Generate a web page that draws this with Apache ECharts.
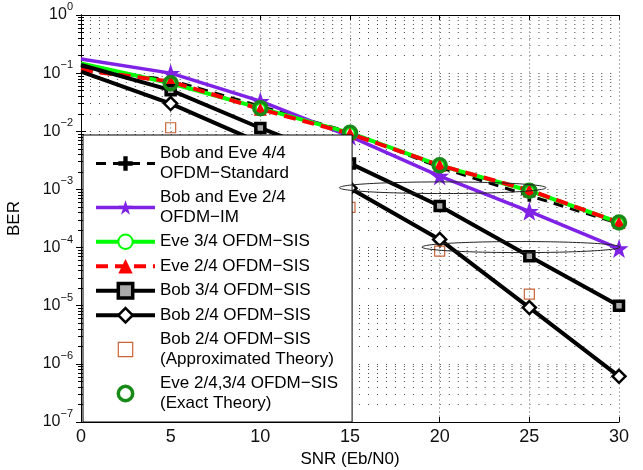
<!DOCTYPE html>
<html lang="en">
<head>
<meta charset="UTF-8">
<title>BER vs SNR</title>
<script src="https://cdn.jsdelivr.net/npm/echarts@6/dist/echarts.min.js"></script>
<style>html,body{margin:0;padding:0;background:#fff;}</style>
</head>
<body>
<div id="main" style="width:643px;height:470px"></div>
<script>
// SNR points (dB)
var snr = [0, 5, 10, 15, 20, 25, 30];
// BER
var berStandard = [0.12, 0.076, 0.027, 0.0096, 0.0024, 0.00078, 0.00026];
var berIM = [0.175, 0.1, 0.033, 0.0082, 0.0017, 0.00042, 0.000096];
var berEve34 = [0.147, 0.067, 0.025, 0.0094, 0.0026, 0.00095, 0.00027];
var berEve24 = [0.113, 0.072, 0.024, 0.0091, 0.0026, 0.00097, 0.00027];
var berBob34 = [0.138, 0.051, 0.0114, 0.0028, 0.00052, 0.000071, 0.00001];
var berBob24 = [0.106, 0.03, 0.0063, 0.00105, 0.000138, 0.0000093, 0.00000061];
var berBob24Approx = [null, 0.0115, 0.0025, 0.00049, 0.000087, 0.0000158, null];
var berEveExact = [null, 0.067, 0.025, 0.0094, 0.0026, 0.00095, 0.00027];

var names = [
    'Bob and Eve 4/4\nOFDM\u2212Standard',
    'Bob and Eve 2/4\nOFDM\u2212IM',
    'Eve 3/4 OFDM\u2212SIS',
    'Eve 2/4 OFDM\u2212SIS',
    'Bob 3/4 OFDM\u2212SIS',
    'Bob 2/4 OFDM\u2212SIS',
    'Bob 2/4 OFDM\u2212SIS\n(Approximated Theory)',
    'Eve 2/4,3/4 OFDM\u2212SIS\n(Exact Theory)'
];

// annotation ellipses: centre snr, centre BER, half width (dB), half height (decades)
var ellipseX = [20.17, 24.54];
var ellipseBer = [0.00107, 0.000102];
var ellipseRx = [5.76, 5.52];
var ellipseRy = [0.1, 0.095];

var FONT = '"Liberation Sans", Arial, Helvetica, sans-serif';
var PLUS = 'path://M3.5,0H6.5V3.5H10V6.5H6.5V10H3.5V6.5H0V3.5H3.5Z';
var STAR = 'path://M12,0.5L15.1,9.3L24.4,9.3L16.8,14.8L19.7,23.6L12,18.2L4.3,23.6L7.2,14.8L-0.4,9.3L8.9,9.3Z';

// first point at snr 0 has no marker
function curve(ys) {
    var out = [];
    for (var i = 0; i < snr.length; i++) {
        if (ys[i] == null) continue;
        if (i === 0) out.push({value: [snr[i], ys[i]], symbol: 'none'});
        else out.push([snr[i], ys[i]]);
    }
    return out;
}

var ellipses = [];
for (var k = 0; k < ellipseX.length; k++) {
    ellipses.push([ellipseX[k], ellipseBer[k], ellipseRx[k], ellipseRy[k]]);
}

function supLabel(v) {
    var e = Math.round(Math.log10(v));
    var s = e < 0 ? '\u2212' + (-e) : '' + e;
    return '{b|10}{s|' + s + '}';
}

var dotLine = {color: '#444', width: 1, type: [1, 7.97]};

var myChart = echarts.init(document.getElementById('main'));
var option = {
    animation: false,
    backgroundColor: '#fff',
    textStyle: {fontFamily: FONT},
    grid: {left: 81, right: 24, top: 15, bottom: 48, outerBoundsMode: 'none'},
    legend: {
        orient: 'vertical',
        left: 83,
        top: 135,
        backgroundColor: '#fff',
        borderColor: '#000',
        borderWidth: 1,
        borderRadius: 0,
        padding: [9, 14, 9, 11],
        itemGap: 5,
        itemWidth: 59,
        itemHeight: 18,
        textStyle: {fontSize: 17, lineHeight: 19.5, color: '#000', fontFamily: FONT},
        lineStyle: {width: 'inherit'},
        itemStyle: {borderWidth: 'inherit'},
        selectedMode: false,
        data: names
    },
    xAxis: [{
        type: 'value', min: 0, max: 30, interval: 5,
        name: 'SNR (Eb/N0)', nameLocation: 'middle', nameGap: 21,
        nameTextStyle: {fontSize: 17, color: '#000', fontFamily: FONT},
        axisLine: {lineStyle: {color: '#000', width: 1}},
        axisTick: {inside: true, length: 5, lineStyle: {color: '#000'}},
        axisLabel: {fontSize: 18, color: '#111', margin: 6, fontFamily: FONT},
        splitLine: {show: true, lineStyle: {color: '#b0b0b0', width: 1, type: [2, 2]}}
    }, {
        type: 'value', min: 0, max: 30, interval: 5, position: 'top',
        axisLine: {lineStyle: {color: '#000', width: 1}},
        axisTick: {inside: true, length: 5, lineStyle: {color: '#000'}},
        axisLabel: {show: false},
        splitLine: {show: false}
    }],
    yAxis: [{
        type: 'log', logBase: 10, min: 1e-7, max: 1,
        name: 'BER', nameLocation: 'middle', nameGap: 58,
        nameTextStyle: {fontSize: 17, color: '#000', fontFamily: FONT},
        axisLine: {show: true, lineStyle: {color: '#000', width: 1}},
        axisTick: {inside: true, length: 5, lineStyle: {color: '#000'}},
        minorTick: {show: true, splitNumber: 9, length: 3, lineStyle: {color: '#000'}},
        axisLabel: {
            margin: 8, color: '#111', formatter: supLabel,
            rich: {
                b: {fontSize: 16, lineHeight: 16, fontFamily: FONT, color: '#111'},
                s: {fontSize: 11, lineHeight: 11, padding: [0, 0, 16, 0], fontFamily: FONT, color: '#111'}
            }
        },
        splitLine: {show: true, lineStyle: dotLine},
        minorSplitLine: {show: true, lineStyle: dotLine}
    }, {
        type: 'log', logBase: 10, min: 1e-7, max: 1, position: 'right',
        axisLine: {show: true, lineStyle: {color: '#000', width: 1}},
        axisTick: {inside: true, length: 5, lineStyle: {color: '#000'}},
        minorTick: {show: true, splitNumber: 9, length: 3, lineStyle: {color: '#000'}},
        axisLabel: {show: false},
        splitLine: {show: false}
    }],
    series: [{
        name: names[0], type: 'line', data: curve(berStandard),
        color: '#000', showAllSymbol: true,
        lineStyle: {width: 3, type: [10, 7], color: '#000'},
        symbol: PLUS, symbolSize: 12, itemStyle: {color: '#000'}
    }, {
        name: names[1], type: 'line', data: curve(berIM),
        color: '#7f22e6', showAllSymbol: true,
        lineStyle: {width: 3.5, color: '#7f22e6'},
        symbol: STAR, symbolSize: 19, itemStyle: {color: '#7f22e6'}
    }, {
        name: names[2], type: 'line', data: curve(berEve34),
        color: '#00ff00', showAllSymbol: true,
        lineStyle: {width: 4, color: '#00ff00'},
        symbol: 'emptyCircle', symbolSize: 9, itemStyle: {color: '#00ff00', borderWidth: 2}
    }, {
        name: names[3], type: 'line', data: curve(berEve24),
        color: '#ff0000', showAllSymbol: true,
        lineStyle: {width: 4, type: [12, 7], color: '#ff0000'},
        symbol: 'triangle', symbolSize: 13, itemStyle: {color: '#ff0000'}
    }, {
        name: names[4], type: 'line', data: curve(berBob34),
        color: '#000', showAllSymbol: true,
        lineStyle: {width: 4, color: '#000'},
        symbol: 'rect', symbolSize: 9,
        itemStyle: {color: '#aaa', borderColor: '#000', borderWidth: 3.5}
    }, {
        name: names[5], type: 'line', data: curve(berBob24),
        color: '#000', showAllSymbol: true,
        lineStyle: {width: 4, color: '#000'},
        symbol: 'diamond', symbolSize: 13,
        itemStyle: {color: '#fff', borderColor: '#000', borderWidth: 2.5}
    }, {
        name: names[6], type: 'line', data: curve(berBob24Approx),
        color: '#c8643a', showAllSymbol: true,
        lineStyle: {width: 1, opacity: 0},
        symbol: 'rect', symbolSize: 10,
        itemStyle: {color: 'rgba(0,0,0,0)', borderColor: '#c8643a', borderWidth: 1.2}
    }, {
        name: names[7], type: 'line', data: curve(berEveExact),
        color: '#178a17', showAllSymbol: true,
        lineStyle: {width: 1, opacity: 0},
        symbol: 'circle', symbolSize: 13,
        itemStyle: {color: 'rgba(0,0,0,0)', borderColor: '#178a17', borderWidth: 3.5}
    }, {
        type: 'custom', z: 6, silent: true,
        data: ellipses,
        encode: {x: 0, y: 1},
        renderItem: function (params, api) {
            var c = api.coord([api.value(0), api.value(1)]);
            var r = api.coord([api.value(0) + api.value(2), api.value(1)]);
            var t = api.coord([api.value(0), api.value(1) * Math.pow(10, api.value(3))]);
            return {
                type: 'ellipse',
                shape: {cx: c[0], cy: c[1], rx: r[0] - c[0], ry: c[1] - t[1]},
                style: {fill: 'none', stroke: '#222', lineWidth: 1}
            };
        }
    }]
};
myChart.setOption(option);
</script>
</body>
</html>
